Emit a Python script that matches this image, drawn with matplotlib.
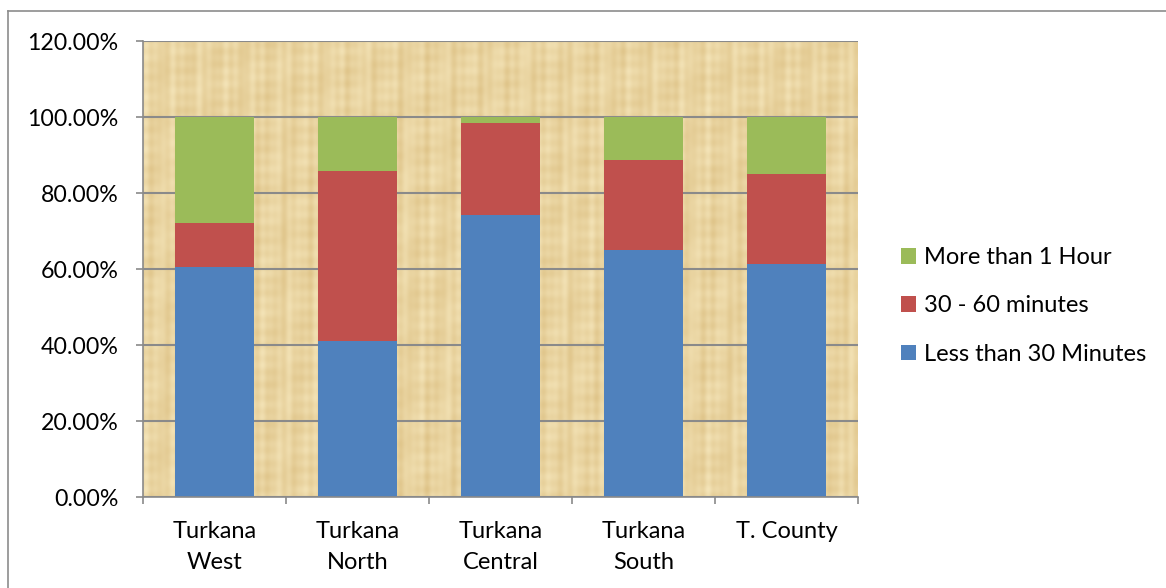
import matplotlib
matplotlib.use("Agg")
import matplotlib.pyplot as plt
from matplotlib.lines import Line2D
from matplotlib.colors import LinearSegmentedColormap
import numpy as np

categories = ["Turkana\nWest", "Turkana\nNorth", "Turkana\nCentral", "Turkana\nSouth", "T. County"]
less_30 = [60.4, 41.0, 74.2, 64.9, 61.4]
min_30_60 = [11.7, 44.9, 24.2, 23.7, 23.5]
more_1h = [27.9, 14.1, 1.6, 11.4, 15.1]
series_names = ["Less than 30 Minutes", "30 - 60 minutes", "More than 1 Hour"]
colors = ["#4F81BD", "#C0504D", "#9BBB59"]
yticks = [0, 20, 40, 60, 80, 100, 120]

plt.rcParams['font.family'] = ['Lato', 'DejaVu Sans']

W, H = 1166, 588
fig = plt.figure(figsize=(W / 100, H / 100), dpi=100)
ax = fig.add_axes([143 / W, 1 - 497 / H, (858 - 143) / W, (497 - 41) / H])

# outer chart border (top and left visible; right/bottom run off the image)
fig.add_artist(Line2D([8 / W, 1.0], [1 - 11 / H, 1 - 11 / H], transform=fig.transFigure,
                      color="#8c8c8c", lw=1.2))
fig.add_artist(Line2D([8 / W, 8 / W], [1 - 11 / H, 0.0], transform=fig.transFigure,
                      color="#8c8c8c", lw=1.2))

ax.set_facecolor("#EBD6A2")
# decorative papyrus-like texture (deterministic)
yy, xx = np.mgrid[0:460, 0:720].astype(float)
tex = (0.5
       + 0.18 * np.sin(xx / 1.7) * np.sin(xx / 9.0 + 1.3)
       + 0.12 * np.sin(xx / 4.3 + yy / 60.0)
       + 0.10 * np.sin(yy / 2.1) * np.cos(xx / 13.0)
       + 0.08 * np.sin(yy / 7.7 + xx / 31.0))
cmap = LinearSegmentedColormap.from_list("pap", ["#DFC489", "#F4E4B8"])
ax.imshow(tex, extent=(-0.5, 4.5, 0, 120), aspect="auto", cmap=cmap, zorder=0,
          interpolation="bilinear")

x = np.arange(len(categories))
bottom = np.zeros(len(categories))
handles = []
for vals, name, c in zip([less_30, min_30_60, more_1h], series_names, colors):
    b = ax.bar(x, vals, width=0.55, bottom=bottom, color=c, label=name, zorder=3, linewidth=0)
    handles.append(b)
    bottom = bottom + np.array(vals)

ax.set_xlim(-0.5, 4.5)
ax.set_ylim(0, 120)
ax.set_yticks(yticks)
ax.set_yticklabels([f"{v:.2f}%" for v in yticks], fontsize=16.7)
ax.yaxis.grid(True, color="#8a8a8a", lw=1.5)
for gl in ax.get_ygridlines():
    gl.set_zorder(1)

ax.set_xticks(x)
ax.set_xticklabels(categories, fontsize=17, linespacing=1.62)
ax.set_xticks(np.arange(-0.5, 5.0, 1.0), minor=True)
ax.tick_params(axis="x", which="major", length=0, pad=17)
ax.tick_params(axis="x", which="minor", length=5, color="#8a8a8a", width=1.2)
ax.tick_params(axis="y", length=5, color="#8a8a8a", width=1.2, pad=12.5)

for s in ["top", "right"]:
    ax.spines[s].set_visible(False)
for s in ["left", "bottom"]:
    ax.spines[s].set_color("#8a8a8a")
    ax.spines[s].set_linewidth(1.2)
    ax.spines[s].set_zorder(4)

leg = fig.legend(handles[::-1], series_names[::-1], loc="center left",
                 bbox_to_anchor=(889 / W, 1 - 306 / H), frameon=False, fontsize=17,
                 handlelength=0.64, handleheight=0.64, handletextpad=0.33, labelspacing=1.15,
                 borderpad=0.0)

fig.savefig("out.png", dpi=100)
